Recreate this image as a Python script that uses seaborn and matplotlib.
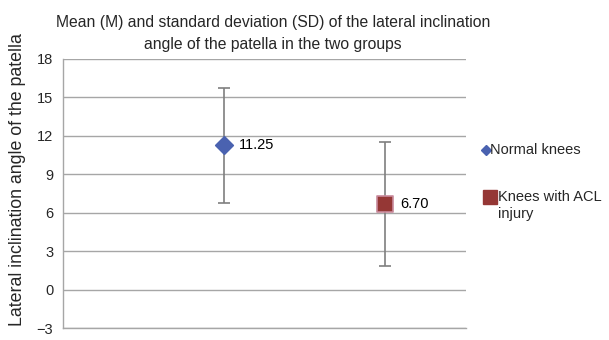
import matplotlib
matplotlib.use("Agg")
import matplotlib.pyplot as plt
import seaborn as sns
import pandas as pd
from matplotlib.lines import Line2D

groups = ["Normal knees", "Knees with ACL\ninjury"]
means = [11.25, 6.70]
sds = [4.5, 4.85]
labels = ["11.25", "6.70"]
yticks = [-3, 0, 3, 6, 9, 12, 15, 18]

sns.set_theme(style="white")
plt.rcParams['font.family'] = ['Liberation Sans', 'DejaVu Sans']

W, H = 609, 340
fig = plt.figure(figsize=(W/100, H/100), dpi=100)
ax = fig.add_axes([63/W, 1-328/H, (466-63)/W, (328-59)/H])

df = pd.DataFrame({"x": [1, 2], "mean": means, "sd": sds, "group": groups})

ax.errorbar(df["x"], df["mean"], yerr=df["sd"], fmt="none", ecolor="#7f7f7f",
            elinewidth=1.2, capsize=4, capthick=1.2, zorder=2)

colors = ["#4a62b0", "#953735"]
markers = ["D", "s"]
sizes = [80, 130]
edges = ["#4a62b0", "#c88a9c"]
for i in range(2):
    sub = df.iloc[[i]]
    sns.scatterplot(data=sub, x="x", y="mean", marker=markers[i], s=sizes[i],
                    color=colors[i], edgecolor=edges[i], linewidth=1.2,
                    ax=ax, zorder=3, legend=False)
    ax.text(df["x"][i] + 0.09, means[i], labels[i], va="center", ha="left",
            fontsize=10.5, color="black")

ax.set_xlim(0, 2.5)
ax.set_ylim(-3, 18)
ax.set_yticks(yticks)
ax.set_yticklabels(["\u22123" if v == -3 else str(v) for v in yticks], fontsize=10.5)
ax.set_xticks([])
ax.set_xlabel("")
ax.set_ylabel("")
ax.tick_params(axis="y", length=0, pad=7)
ax.grid(axis="y", color="#a6a6a6", linewidth=1)
for s in ["top", "right"]:
    ax.spines[s].set_visible(False)
for s in ["left", "bottom"]:
    ax.spines[s].set_color("#a6a6a6")
    ax.spines[s].set_linewidth(1)

fig.text(18/W, 1-180/H, "Lateral inclination angle of the patella", rotation=90,
         ha="center", va="center", fontsize=12.8)

fig.text(273/W, 1-23/H, "Mean (M) and standard deviation (SD) of the lateral inclination",
         ha="center", va="center", fontsize=11.3)
fig.text(273/W, 1-45/H, "angle of the patella in the two groups",
         ha="center", va="center", fontsize=11.3)

# legend (drawn manually to match layout)
fig.add_artist(Line2D([486/W], [1-150/H], marker="D", color=colors[0],
                      linestyle="none", markersize=5, transform=fig.transFigure))
fig.text(490/W, 1-150/H, groups[0], ha="left", va="center", fontsize=10.5)
fig.add_artist(Line2D([490/W], [1-197/H], marker="s", color=colors[1],
                      linestyle="none", markersize=9.5, transform=fig.transFigure))
lines2 = groups[1].split("\n")
fig.text(498/W, 1-197/H, lines2[0], ha="left", va="center", fontsize=10.5)
fig.text(498/W, 1-214/H, lines2[1], ha="left", va="center", fontsize=10.5)

fig.savefig("out.png", dpi=100)
